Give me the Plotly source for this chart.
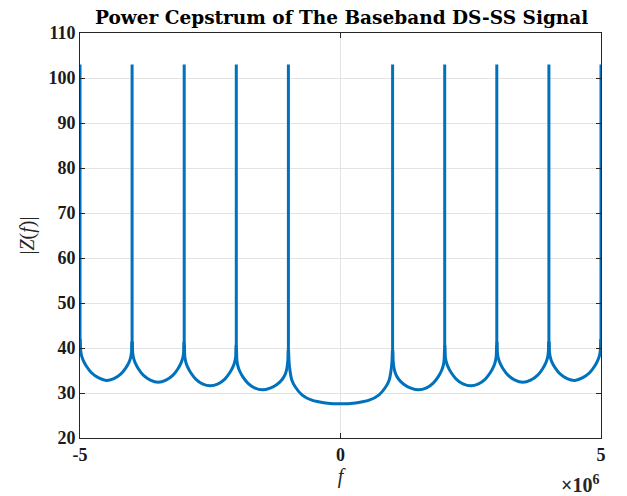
import plotly.graph_objects as go

# frequency scale (x values are in units of 1e6)
SCALE = 1e6

# fractional offsets within each segment between consecutive spikes
offsets = [0.004, 0.012, 0.03, 0.06, 0.12, 0.22, 0.35, 0.5,
           0.65, 0.78, 0.88, 0.94, 0.97, 0.988, 0.996]

# segment start positions (x 1e6) and values
seg_starts = [-5, -4, -3, -2, 1, 2, 3, 4]
seg_m5 = [42.0, 39.6, 38.3, 37.3, 36.0, 34.5, 33.4, 32.8, 33.2, 34.2, 35.6, 36.8, 37.8, 39.0, 41.4]
seg_m4 = [41.4, 38.9, 37.7, 36.7, 35.4, 33.9, 32.85, 32.4, 32.85, 33.9, 35.4, 36.7, 37.7, 38.9, 41.4]
seg_m3 = [40.6, 38.1, 36.9, 35.9, 34.6, 33.1, 32.05, 31.6, 32.05, 33.1, 34.6, 35.9, 36.9, 38.1, 40.6]
seg_m2 = [39.7, 37.2, 36.0, 35.0, 33.7, 32.2, 31.15, 30.7, 31.1, 31.9, 33.0, 34.2, 35.4, 37.0, 39.5]
seg_p1 = [39.5, 37.0, 35.4, 34.2, 33.0, 31.9, 31.1, 30.7, 31.15, 32.2, 33.7, 35.0, 36.0, 37.2, 39.7]
seg_p2 = [40.6, 38.1, 36.9, 35.9, 34.6, 33.1, 32.05, 31.6, 32.05, 33.1, 34.6, 35.9, 36.9, 38.1, 40.6]
seg_p3 = [41.4, 38.9, 37.7, 36.7, 35.4, 33.9, 32.85, 32.4, 32.85, 33.9, 35.4, 36.7, 37.7, 38.9, 41.4]
seg_p4 = [41.4, 39.0, 37.8, 36.8, 35.6, 34.2, 33.2, 32.8, 33.4, 34.5, 36.0, 37.3, 38.3, 39.6, 42.0]
side_segments = [seg_m5, seg_m4, seg_m3, seg_m2, seg_p1, seg_p2, seg_p3, seg_p4]

# central segment between -1e6 and +1e6
center_f = [-0.996, -0.988, -0.97, -0.935, -0.87, -0.74, -0.55, -0.29, 0,
            0.29, 0.55, 0.74, 0.87, 0.935, 0.97, 0.988, 0.996]
center_vals = [39.5, 37.0, 35.0, 32.9, 31.4, 29.6, 28.4, 27.8, 27.6,
               27.8, 28.4, 29.6, 31.4, 32.9, 35.0, 37.0, 39.5]

# spikes
spike_f = [-5, -4, -3, -2, -1, 1, 2, 3, 4, 5]
spike_base = [40, 39.5, 39, 38.5, 38, 38, 38.5, 39, 39.5, 40]
spike_top = 103

x_ticks = [-5, 0, 5]
y_ticks = [20, 30, 40, 50, 60, 70, 80, 90, 100, 110]

COLOR = "#0072BD"

arc_x, arc_y = [], []
for start, vals in zip(seg_starts, side_segments):
    arc_x += [(start + o) * SCALE for o in offsets] + [None]
    arc_y += list(vals) + [None]
arc_x += [f * SCALE for f in center_f]
arc_y += center_vals

sp_x, sp_y = [], []
for f, b in zip(spike_f, spike_base):
    sp_x += [f * SCALE, f * SCALE, None]
    sp_y += [b, spike_top, None]

fig = go.Figure()
fig.add_trace(go.Scatter(x=arc_x, y=arc_y, mode="lines",
                         line=dict(color=COLOR, width=3, shape="spline", smoothing=0.7),
                         connectgaps=False, hoverinfo="skip", showlegend=False))
fig.add_trace(go.Scatter(x=sp_x, y=sp_y, mode="lines",
                         line=dict(color=COLOR, width=3),
                         connectgaps=False, hoverinfo="skip", showlegend=False))

tickfont = dict(family="Liberation Serif", size=18, color="#1a1a1a", weight="bold")
axis_common = dict(showline=True, linecolor="#262626", linewidth=1, mirror="ticks",
                   ticks="inside", ticklen=5, tickcolor="#262626",
                   showgrid=True, gridcolor="#e3e3e3", gridwidth=1,
                   zeroline=False, tickfont=tickfont)

fig.update_xaxes(range=[-5 * SCALE, 5 * SCALE],
                 tickvals=[t * SCALE for t in x_ticks],
                 ticktext=[str(t) for t in x_ticks],
                 title=dict(text="<i>f</i>", standoff=4,
                            font=dict(family="Liberation Serif", size=20, color="#262626")),
                 **axis_common)
fig.update_yaxes(range=[20, 110], tickvals=y_ticks,
                 ticktext=[str(t) for t in y_ticks],
                 title=dict(text="|<i>Z</i>(<i>f</i>)|", standoff=8,
                            font=dict(family="Liberation Serif", size=20, color="#262626")),
                 **axis_common)

fig.update_layout(
    width=627, height=496,
    margin=dict(l=80, r=26, t=33, b=58),
    paper_bgcolor="white", plot_bgcolor="white",
    title=dict(text="<b>Power Cepstrum of The Baseband DS-SS Signal</b>",
               x=0.545, xanchor="center", y=0.977, yanchor="top",
               font=dict(family="DejaVu Serif", size=18.5, color="black")),
    annotations=[dict(text="<b>×10<sup>6</sup></b>", xref="paper", yref="paper",
                      x=1.0, y=-0.08, xanchor="right", yanchor="top", showarrow=False,
                      font=dict(family="Liberation Serif", size=20, color="#262626"))],
)

fig.write_html("out.html")
